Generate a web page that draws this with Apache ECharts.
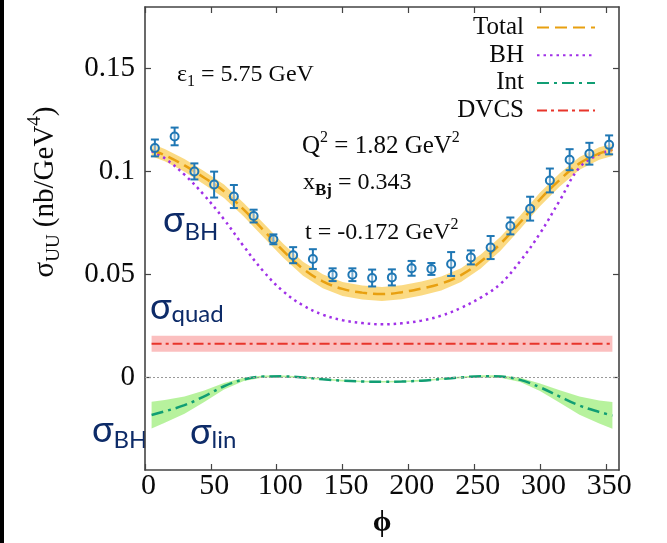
<!DOCTYPE html>
<html><head><meta charset="utf-8">
<script src="https://cdn.jsdelivr.net/npm/echarts@6/dist/echarts.min.js"></script>
<style>html,body{margin:0;padding:0;background:#fff}#c{width:667px;height:543px}</style>
</head><body><div id="c"></div>
<script>
// ---------- data ----------
const phiData = [7.5,22.5,37.5,52.5,67.5,82.5,97.5,112.5,127.5,142.5,157.5,172.5,187.5,202.5,217.5,232.5,247.5,262.5,277.5,292.5,307.5,322.5,337.5,352.5];
const sigmaData = [0.1115,0.1171,0.1001,0.0937,0.0879,0.0784,0.0671,0.0594,0.0575,0.0499,0.0499,0.0483,0.0486,0.0530,0.0527,0.0551,0.0583,0.0631,0.0736,0.0820,0.0957,0.1058,0.1087,0.1130];
const sigmaErr = [0.0041,0.0043,0.0039,0.0063,0.0056,0.0031,0.0024,0.0039,0.0048,0.0031,0.0031,0.0041,0.0039,0.0036,0.0029,0.0058,0.0034,0.0056,0.0041,0.0058,0.0058,0.0051,0.0053,0.0046];

const curvePhi = [5,15,30,45,60,75,90,105,120,135,150,165,180,195,210,225,240,255,270,285,300,315,330,345,355];
const totalCurve = [0.1105,0.1080,0.1030,0.0970,0.0905,0.0815,0.0715,0.0615,0.0528,0.0467,0.0430,0.0412,0.0405,0.0414,0.0432,0.0456,0.0497,0.0563,0.0650,0.0754,0.0865,0.0960,0.1040,0.1088,0.1106];
const totalBand = [0.0030,0.0030,0.0031,0.0032,0.0033,0.0033,0.0034,0.0034,0.0034,0.0034,0.0034,0.0034,0.0034,0.0034,0.0034,0.0034,0.0034,0.0034,0.0034,0.0033,0.0033,0.0032,0.0031,0.0030,0.0030];
const bhCurve = [0.1100,0.1065,0.0985,0.0885,0.0768,0.0637,0.0515,0.0418,0.0350,0.0305,0.0278,0.0264,0.0258,0.0263,0.0276,0.0300,0.0338,0.0388,0.0455,0.0565,0.0700,0.0860,0.1020,0.1085,0.1106];
const intCurve = [-0.0183,-0.0165,-0.0135,-0.0092,-0.0043,-0.0010,0.0004,0.0005,0.0000,-0.0009,-0.0016,-0.0020,-0.0021,-0.0020,-0.0016,-0.0008,0.0000,0.0006,0.0004,-0.0012,-0.0048,-0.0093,-0.0137,-0.0168,-0.0185];
const intBand = [0.0065,0.0055,0.0042,0.0028,0.0016,0.0008,0.0005,0.0004,0.0004,0.0004,0.0004,0.0004,0.0004,0.0004,0.0004,0.0004,0.0004,0.0005,0.0006,0.0010,0.0018,0.0030,0.0044,0.0056,0.0065];
const dvcsCurve = [0.0164,0.0164,0.0164,0.0164,0.0164,0.0164,0.0164,0.0164,0.0164,0.0164,0.0164,0.0164,0.0164,0.0164,0.0164,0.0164,0.0164,0.0164,0.0164,0.0164,0.0164,0.0164,0.0164,0.0164,0.0164];
const dvcsBand = [0.0039,0.0039,0.0039,0.0039,0.0039,0.0039,0.0039,0.0039,0.0039,0.0039,0.0039,0.0039,0.0039,0.0039,0.0039,0.0039,0.0039,0.0039,0.0039,0.0039,0.0039,0.0039,0.0039,0.0039,0.0039];

const xTicks = [0,50,100,150,200,250,300,350];
const yTicks = [0,0.05,0.1,0.15];
const legendNames = ['Total','BH','Int','DVCS'];

// ---------- helpers ----------
const SERIF = '"Liberation Serif","DejaVu Serif",serif';
const SANS = 'Lato,"Open Sans",sans-serif';
const NAVY = '#0d2b68';
const INK = '#0a0a0a';

function pairs(ys){ return curvePhi.map((p,i)=>[p, ys[i]]); }
function bandSeries(id, center, half, color){
  return {
    type:'custom', name:id, silent:true, z:1,
    data: curvePhi.map((p,i)=>[p, center[i]-half[i], center[i]+half[i]]),
    renderItem(params, api){
      if (params.dataIndex !== 0) return null;
      const up = curvePhi.map((p,i)=>api.coord([p, center[i]+half[i]]));
      const lo = curvePhi.map((p,i)=>api.coord([p, center[i]-half[i]])).reverse();
      return {type:'group', children:[
        {type:'polyline', shape:{points:up.concat(lo), smooth:0}, style:{fill:color, stroke:null}}
      ]};
    }
  };
}
function lineSeries(name, ys, color, dash, width){
  return {type:'line', name, data: pairs(ys), smooth:0.4, symbol:'none', z:3,
    lineStyle:{color, width, type:dash}, itemStyle:{color}};
}

const ptColor = '#1f77b4';
const errorSeries = {
  type:'custom', name:'data', z:5,
  data: phiData.map((p,i)=>[p, sigmaData[i], sigmaErr[i]]),
  renderItem(params, api){
    const x = api.value(0), y = api.value(1), e = api.value(2);
    const c = api.coord([x,y]), hi = api.coord([x,y+e]), lo = api.coord([x,y-e]);
    const cap = 4, st = {stroke:ptColor, lineWidth:2};
    return {type:'group', children:[
      {type:'line', shape:{x1:c[0],y1:hi[1],x2:c[0],y2:lo[1]}, style:st},
      {type:'line', shape:{x1:c[0]-cap,y1:hi[1],x2:c[0]+cap,y2:hi[1]}, style:st},
      {type:'line', shape:{x1:c[0]-cap,y1:lo[1],x2:c[0]+cap,y2:lo[1]}, style:st},
      {type:'circle', shape:{cx:c[0],cy:c[1],r:4}, style:{fill:'rgba(255,255,255,0.4)', stroke:ptColor, lineWidth:2}}
    ]};
  }
};

const axisCommon = {
  axisLine:{show:true, onZero:false, lineStyle:{color:'#444', width:1.6}},
  axisTick:{show:true, inside:true, length:6, lineStyle:{color:'#444', width:1.2}},
  splitLine:{show:false}
};
function axis(extra, ticks){
  return Object.assign({}, axisCommon, extra,
    {axisTick:Object.assign({}, axisCommon.axisTick, {customValues:ticks})});
}

const chart = echarts.init(document.getElementById('c'));
const option = {
  animation:false,
  backgroundColor:'#fff',
  grid:{left:145, top:7, width:474, height:465},
  xAxis:[
    axis({type:'value', min:0, max:360, position:'bottom',
      name:'ϕ', nameLocation:'middle', nameGap:38,
      nameTextStyle:{fontFamily:SERIF, fontSize:30, fontWeight:'bold', color:INK},
      axisLabel:{customValues:xTicks, fontFamily:SERIF, fontSize:30, color:INK, margin:1, padding:[0,0,0,7]}}, xTicks),
    axis({type:'value', min:0, max:360, position:'top', axisLabel:{show:false}}, xTicks)
  ],
  yAxis:[
    axis({type:'value', min:-0.045, max:0.18, position:'left',
      axisLabel:{customValues:yTicks, fontFamily:SERIF, fontSize:29, color:INK, margin:10, formatter:v=>String(v)}}, yTicks),
    axis({type:'value', min:-0.045, max:0.18, position:'right', axisLabel:{show:false}}, yTicks)
  ],
  legend:{
    data:legendNames, orient:'vertical', align:'right', right:66, top:10,
    itemWidth:58, itemHeight:14, itemGap:2.7,
    itemStyle:{opacity:0},
    textStyle:{fontFamily:SERIF, fontSize:25, color:INK, lineHeight:25, padding:[0,8,0,0]}
  },
  series:[
    bandSeries('tb', totalCurve, totalBand, 'rgba(250,205,90,0.75)'),
    bandSeries('ib', intCurve, intBand, 'rgba(170,240,140,0.85)'),
    bandSeries('db', dvcsCurve, dvcsBand, 'rgba(250,170,170,0.75)'),
    Object.assign(lineSeries('DVCS', dvcsCurve, '#e8352b', [10,4,3,4], 2), {
      markLine:{silent:true, symbol:['none','none'], label:{show:false},
        lineStyle:{color:'#999', type:[2,2], width:1}, data:[{yAxis:0}]}}),
    lineSeries('Int', intCurve, '#119e74', [12,5,3,5], 2.5),
    lineSeries('BH', bhCurve, '#a030e8', [2.5,4], 2.5),
    lineSeries('Total', totalCurve, '#e8a010', [12,6], 2.5),
    errorSeries
  ],
  graphic:[
    {type:'rect', left:0, top:0, shape:{width:4, height:543}, style:{fill:'#000'}},
    // y axis title
    {type:'text', x:45, y:192, rotation:Math.PI/2, style:{
      text:'{b|σ}{s|UU}{b| (nb/GeV}{p|4}{b|)}', align:'center', verticalAlign:'middle',
      rich:{
        b:{fontFamily:SERIF, fontSize:29, padding:[5,0,0,0], verticalAlign:'top', fill:INK},
        s:{fontFamily:SERIF, fontSize:19, padding:[19,0,0,0], verticalAlign:'top', fill:INK},
        p:{fontFamily:SERIF, fontSize:19, padding:[0,0,0,0], verticalAlign:'top', fill:INK}
      }}},
    // annotations
    {type:'text', x:177, y:63, style:{text:'{b|ε}{s|1}{b| = 5.75 GeV}', align:'left', verticalAlign:'top',
      rich:{b:{fontFamily:SERIF, fontSize:24, padding:[0,0,0,0], verticalAlign:'top', fill:INK},
            s:{fontFamily:SERIF, fontSize:16, padding:[11,0,0,0], verticalAlign:'top', fill:INK}}}},
    {type:'text', x:302, y:130, style:{text:'{b|Q}{p|2}{b| = 1.82 GeV}{p|2}', align:'left', verticalAlign:'top',
      rich:{b:{fontFamily:SERIF, fontSize:25, padding:[4,0,0,0], verticalAlign:'top', fill:INK},
            p:{fontFamily:SERIF, fontSize:16, padding:[0,0,0,0], verticalAlign:'top', fill:INK}}}},
    {type:'text', x:303, y:171, style:{text:'{b|x}{s|Bj}{b| = 0.343}', align:'left', verticalAlign:'top',
      rich:{b:{fontFamily:SERIF, fontSize:24, padding:[0,0,0,0], verticalAlign:'top', fill:INK},
            s:{fontFamily:SERIF, fontSize:17, fontWeight:'bold', padding:[11,0,0,0], verticalAlign:'top', fill:INK}}}},
    {type:'text', x:305, y:217, style:{text:'{b|t = -0.172 GeV}{p|2}', align:'left', verticalAlign:'top',
      rich:{b:{fontFamily:SERIF, fontSize:24, padding:[4,0,0,0], verticalAlign:'top', fill:INK},
            p:{fontFamily:SERIF, fontSize:16, padding:[0,0,0,0], verticalAlign:'top', fill:INK}}}},
    // navy sigma labels
    {type:'text', x:163, y:202, style:{text:'{a|σ}{s|BH}', align:'left', verticalAlign:'top',
      rich:{a:{fontFamily:SANS, fontSize:36, verticalAlign:'top', fill:NAVY},
            s:{fontFamily:SANS, fontSize:24, padding:[18,0,0,0], verticalAlign:'top', fill:NAVY}}}},
    {type:'text', x:150, y:289, style:{text:'{a|σ}{s|quad}', align:'left', verticalAlign:'top',
      rich:{a:{fontFamily:SANS, fontSize:36, verticalAlign:'top', fill:NAVY},
            s:{fontFamily:SANS, fontSize:24, padding:[13,0,0,0], verticalAlign:'top', fill:NAVY}}}},
    {type:'text', x:92, y:412, style:{text:'{a|σ}{s|BH}', align:'left', verticalAlign:'top',
      rich:{a:{fontFamily:SANS, fontSize:36, verticalAlign:'top', fill:NAVY},
            s:{fontFamily:SANS, fontSize:24, padding:[16,0,0,0], verticalAlign:'top', fill:NAVY}}}},
    {type:'text', x:190, y:414, style:{text:'{a|σ}{s|lin}', align:'left', verticalAlign:'top',
      rich:{a:{fontFamily:SANS, fontSize:36, verticalAlign:'top', fill:NAVY},
            s:{fontFamily:SANS, fontSize:24, padding:[14,0,0,0], verticalAlign:'top', fill:NAVY}}}}
  ]
};
chart.setOption(option);
</script></body></html>
